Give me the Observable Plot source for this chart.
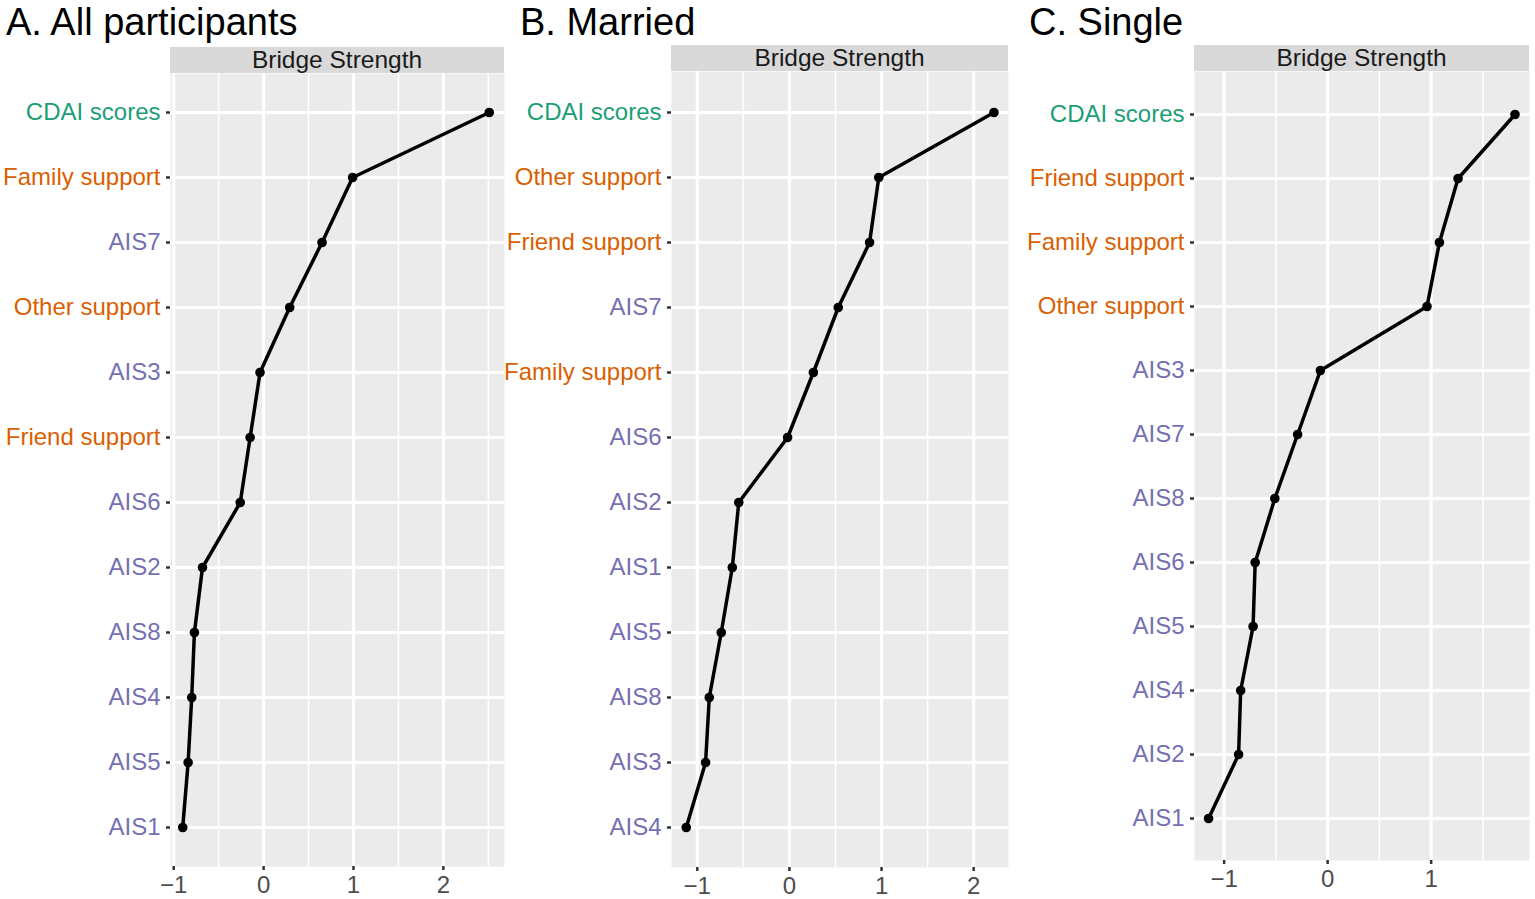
<!DOCTYPE html>
<html>
<head>
<meta charset="utf-8">
<script src="https://cdn.jsdelivr.net/npm/d3@7"></script>
<script src="https://cdn.jsdelivr.net/npm/@observablehq/plot@0.6"></script>
<style>
  html, body { margin: 0; padding: 0; background: white; }
  #fig { position: relative; width: 1535px; height: 899px; background: white;
         font-family: Arial, "Liberation Sans", Helvetica, sans-serif; overflow: hidden; }
  .title { position: absolute; font-size: 38px; line-height: 38px; color: #000; white-space: nowrap; }
  .strip { position: absolute; background: #d9d9d9; color: #1a1a1a; font-size: 24.5px;
           text-align: center; white-space: nowrap; }
  .panel { position: absolute; }
</style>
</head>
<body>
<div id="fig"></div>
<script>
// ---------- data ----------
const titles = ["A. All participants", "B. Married", "C. Single"];
const stripLabel = "Bridge Strength";

const nodesA = ["CDAI scores", "Family support", "AIS7", "Other support", "AIS3", "Friend support",
                "AIS6", "AIS2", "AIS8", "AIS4", "AIS5", "AIS1"];
const valuesA = [2.51, 0.99, 0.65, 0.29, -0.04, -0.15, -0.26, -0.68, -0.77, -0.80, -0.84, -0.90];

const nodesB = ["CDAI scores", "Other support", "Friend support", "AIS7", "Family support", "AIS6",
                "AIS2", "AIS1", "AIS5", "AIS8", "AIS3", "AIS4"];
const valuesB = [2.22, 0.97, 0.87, 0.53, 0.26, -0.02, -0.55, -0.62, -0.74, -0.87, -0.91, -1.12];

const nodesC = ["CDAI scores", "Friend support", "Family support", "Other support", "AIS3", "AIS7",
                "AIS8", "AIS6", "AIS5", "AIS4", "AIS2", "AIS1"];
const valuesC = [1.81, 1.26, 1.08, 0.96, -0.07, -0.29, -0.51, -0.70, -0.72, -0.84, -0.86, -1.15];

const xTicksA = [-1, 0, 1, 2];
const xTicksB = [-1, 0, 1, 2];
const xTicksC = [-1, 0, 1];

const groupColors = { cdai: "#1b9e77", support: "#d95f02", ais: "#7570b3" };
function groupOf(n) {
  if (n.startsWith("CDAI")) return "cdai";
  if (n.includes("support")) return "support";
  return "ais";
}

// ---------- layout ----------
const panels = [
  { title: titles[0], nodes: nodesA, values: valuesA, ticks: xTicksA, domain: [-1.036, 2.68],
    titleX: 6, svgLeft: 0, plotLeft: 170, plotRight: 504, top: 73, bottom: 866, stripTop: 47 },
  { title: titles[1], nodes: nodesB, values: valuesB, ticks: xTicksB, domain: [-1.28, 2.378],
    titleX: 520, svgLeft: 505, plotLeft: 671, plotRight: 1008, top: 71, bottom: 867, stripTop: 45 },
  { title: titles[2], nodes: nodesC, values: valuesC, ticks: xTicksC, domain: [-1.286, 1.95],
    titleX: 1029, svgLeft: 1012, plotLeft: 1194, plotRight: 1529, top: 71, bottom: 860, stripTop: 45 }
];

const fig = document.getElementById("fig");

for (const p of panels) {
  const t = document.createElement("div");
  t.className = "title";
  t.style.left = p.titleX + "px";
  t.style.top = "3px";
  t.textContent = p.title;
  fig.appendChild(t);

  const s = document.createElement("div");
  s.className = "strip";
  s.style.left = p.plotLeft + "px";
  s.style.top = p.stripTop + "px";
  s.style.width = (p.plotRight - p.plotLeft) + "px";
  s.style.height = (p.top - p.stripTop) + "px";
  s.style.lineHeight = (p.top - p.stripTop) + "px";
  s.textContent = stripLabel;
  fig.appendChild(s);

  const data = p.nodes.map((n, i) => ({ node: n, value: p.values[i] }));
  const minor = d3.range(Math.ceil(p.domain[0] * 2) / 2, p.domain[1], 0.5)
    .filter(v => !p.ticks.includes(v) && Math.abs(v % 1) > 0.1);
  const marginBottom = 38;
  const width = p.plotRight - p.svgLeft + 6;
  const height = p.bottom - p.top + marginBottom;

  const yAxes = ["cdai", "support", "ais"].map(g =>
    Plot.axisY(p.nodes.filter(n => groupOf(n) === g), {
      anchor: "left", tickSize: 4, tickPadding: 6, fontSize: 24,
      fill: groupColors[g], stroke: "#333", strokeWidth: 2.5, label: null
    }));

  const chart = Plot.plot({
    width, height,
    marginLeft: p.plotLeft - p.svgLeft, marginRight: 6, marginTop: 0, marginBottom,
    style: { background: "transparent", fontFamily: "Arial, 'Liberation Sans', Helvetica, sans-serif",
             overflow: "visible", maxWidth: "none" },
    x: { domain: p.domain },
    y: { type: "point", domain: p.nodes, padding: 0.6 },
    marks: [
      Plot.frame({ fill: "#ebebeb", stroke: "none" }),
      Plot.ruleX(minor, { stroke: "white", strokeWidth: 1.6 }),
      Plot.ruleX(p.ticks, { stroke: "white", strokeWidth: 3.2 }),
      Plot.ruleY(p.nodes, { stroke: "white", strokeWidth: 3.2 }),
      Plot.axisX(p.ticks, { anchor: "bottom", tickSize: 4, tickPadding: 5, fontSize: 24,
        fill: "#4d4d4d", stroke: "#333", strokeWidth: 2.5, label: null,
        tickFormat: d => d < 0 ? "\u2212" + Math.abs(d) : String(d) }),
      ...yAxes,
      Plot.line(data, { x: "value", y: "node", stroke: "black", strokeWidth: 3.5 }),
      Plot.dot(data, { x: "value", y: "node", r: 4.8, fill: "black", stroke: "none" })
    ]
  });
  chart.classList.add("panel");
  chart.style.left = p.svgLeft + "px";
  chart.style.top = p.top + "px";
  fig.appendChild(chart);
}
</script>
</body>
</html>
